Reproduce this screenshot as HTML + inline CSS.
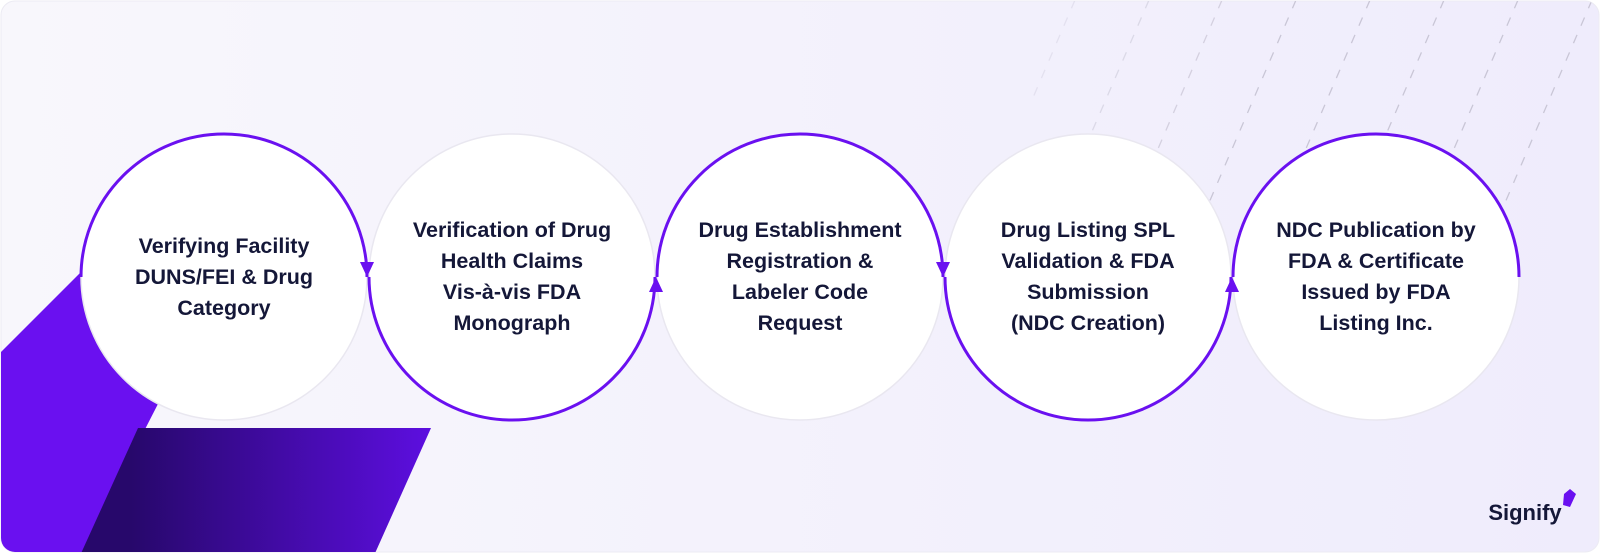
<!DOCTYPE html>
<html><head><meta charset="utf-8"><style>
html,body{margin:0;padding:0;background:#fff;}
svg{display:block;}
text{font-family:"Liberation Sans",sans-serif;font-weight:bold;fill:#141738;font-size:21.5px;text-anchor:middle;}
</style></head><body>
<svg width="1600" height="554" viewBox="0 0 1600 554">
<defs>
<linearGradient id="bg" x1="0" y1="0" x2="1" y2="0">
<stop offset="0" stop-color="#f8f7fc"/><stop offset="1" stop-color="#efecfc"/>
</linearGradient>
<linearGradient id="pg" x1="0" y1="0" x2="1" y2="0">
<stop offset="0.15" stop-color="#27086b"/><stop offset="1" stop-color="#5d0ee0"/>
</linearGradient>
<clipPath id="card"><rect x="1" y="1" width="1598" height="551" rx="14"/></clipPath>
</defs>
<rect x="1" y="1" width="1598" height="551" rx="14" fill="url(#bg)" stroke="#ecebf3" stroke-width="1"/>
<g clip-path="url(#card)">
<path d="M0 353 L82 271 L160 400 L78 560 L0 560 Z" fill="#6a10f0"/>
<path d="M138 428 L431 428 L372 560 L78 560 Z" fill="url(#pg)"/>
<g stroke="#c9c6d6" stroke-width="1.3" stroke-dasharray="9 10" fill="none">
<line x1="1075" y1="0" x2="1032" y2="100" opacity="0.35"/>
<line x1="1149" y1="0" x2="1084" y2="150" opacity="0.55"/>
<line x1="1222" y1="0" x2="1136" y2="200" opacity="0.75"/>
<line x1="1296" y1="0" x2="1193" y2="240"/>
<line x1="1370" y1="0" x2="1258" y2="260"/>
<line x1="1444" y1="0" x2="1319" y2="290"/>
<line x1="1518" y1="0" x2="1389" y2="300"/>
<line x1="1592" y1="0" x2="1459" y2="310"/>
</g>
</g>
<g fill="#fff" stroke="#e9e7f0" stroke-width="1.5">
<circle cx="224" cy="277" r="143"/>
<circle cx="512" cy="277" r="143"/>
<circle cx="800" cy="277" r="143"/>
<circle cx="1088" cy="277" r="143"/>
<circle cx="1376" cy="277" r="143"/>
</g>
<g stroke="#6a10f0" stroke-width="3" fill="none">
<path d="M81 277 A143 143 0 0 1 367 277"/>
<path d="M369 277 A143 143 0 0 0 655 277"/>
<path d="M657 277 A143 143 0 0 1 943 277"/>
<path d="M945 277 A143 143 0 0 0 1231 277"/>
<path d="M1233 277 A143 143 0 0 1 1519 277"/>
</g>
<g fill="#6a10f0">
<path d="M360 262 L374 262 L367 277 Z"/>
<path d="M649 292 L663 292 L656 277 Z"/>
<path d="M936 262 L950 262 L943 277 Z"/>
<path d="M1225 292 L1239 292 L1232 277 Z"/>
</g>
<text x="224" y="253">Verifying Facility</text>
<text x="224" y="284">DUNS/FEI &amp; Drug</text>
<text x="224" y="315">Category</text>
<text x="512" y="237">Verification of Drug</text>
<text x="512" y="268">Health Claims</text>
<text x="512" y="299">Vis-à-vis FDA</text>
<text x="512" y="330">Monograph</text>
<text x="800" y="237">Drug Establishment</text>
<text x="800" y="268">Registration &amp;</text>
<text x="800" y="299">Labeler Code</text>
<text x="800" y="330">Request</text>
<text x="1088" y="237">Drug Listing SPL</text>
<text x="1088" y="268">Validation &amp; FDA</text>
<text x="1088" y="299">Submission</text>
<text x="1088" y="330">(NDC Creation)</text>
<text x="1376" y="237">NDC Publication by</text>
<text x="1376" y="268">FDA &amp; Certificate</text>
<text x="1376" y="299">Issued by FDA</text>
<text x="1376" y="330">Listing Inc.</text>
<text x="1525" y="520" style="font-size:22px">Signify</text>
<path d="M1564 494 L1570 489 L1576 494 L1570 507 L1563 505 Z" fill="#6a10f0"/>
</svg>
</body></html>
